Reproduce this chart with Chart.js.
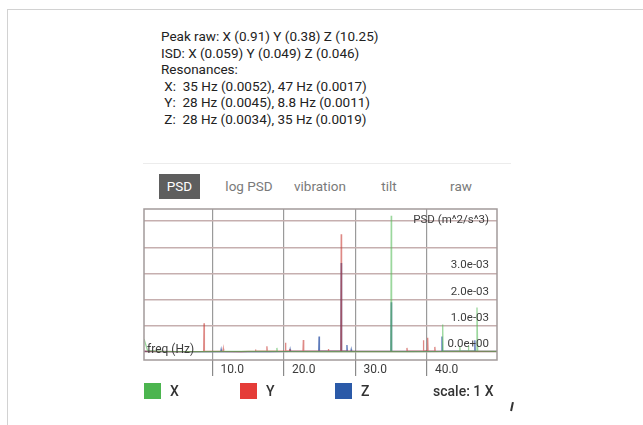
<!DOCTYPE html>
<html>
<head>
<meta charset="utf-8">
<script src="https://cdn.jsdelivr.net/npm/chart.js@4.4.1/dist/chart.umd.min.js"></script>
<style>
  html, body { margin: 0; padding: 0; background: #fff; width: 643px; height: 425px; overflow: hidden;
    font-family: Roboto, "Noto Sans", "Liberation Sans", sans-serif; }
  .frame { position: absolute; left: 7px; top: 9px; width: 700px; height: 500px;
    border-top: 1.5px solid #d2d2d2; border-left: 1.5px solid #d2d2d2; }
  #stats { position: absolute; left: 161px; top: 28px; font-size: 13.5px; line-height: 16.5px;
    color: #222; white-space: pre; }
  .sep { position: absolute; left: 143px; top: 163px; width: 368px; height: 1px; background: #ececec; }
  .tab { position: absolute; top: 174px; height: 25px; line-height: 25px; font-size: 13.5px;
    color: #7a7a7a; transform: translateX(-50%); white-space: nowrap; }
  .tab.on { background: #5e5e5e; color: #fff; width: 41px; text-align: center; transform: none; }
  #plot { position: absolute; left: 140px; top: 205px; width: 365px; height: 180px; }
  .sw { position: absolute; top: 383px; width: 17px; height: 16px; }
  .lg { position: absolute; top: 383px; line-height: 17px; font-size: 14px; color: #333; font-weight: 500; white-space: nowrap; }
  .mark { position: absolute; left: 511px; top: 402px; width: 1.5px; height: 9px; background: #333; transform: rotate(12deg); }
</style>
</head>
<body>
<div class="frame"></div>
<div id="stats"></div>
<div class="sep"></div>
<div id="tabs"></div>
<div id="plot"><canvas id="psd"></canvas></div>
<div id="legend"></div>
<div class="mark"></div>

<script>
// ---- summary values ----
const peakRaw = [0.91, 0.38, 10.25];
const isd = ['0.059', '0.049', '0.046'];
const axisNames = ['X', 'Y', 'Z'];

// top two resonances per axis: [frequency Hz, PSD]
const resonX = [[35, 0.0052], [47, 0.0017]];
const resonY = [[28, 0.0045], [8.8, 0.0011]];
const resonZ = [[28, 0.0034], [35, 0.0019]];

// remaining spectrum points per axis: [frequency Hz, PSD]
const spectrumX = [
  [0.4, 0.0005], [0.9, 0.00006], [3.0, 0.00003], [8.0, 0.00002], [12.0, 0.00003],
  [18.95, 0.00003], [19.0, 0.00016], [19.05, 0.00003], [25.0, 0.00002], [30.0, 0.00002],
  [34.95, 0.00003], [35.05, 0.00003], [38.0, 0.00002],
  [42.15, 0.00003], [42.2, 0.00105], [42.25, 0.00003],
  [44.55, 0.00003], [44.6, 0.0002], [44.65, 0.00004], [45.75, 0.00004], [45.8, 0.00025], [45.85, 0.00004],
  [46.9, 0.00004], [47.1, 0.00004], [49.8, 0.00003]
];
const spectrumY = [
  [0.4, 0.00004], [2.0, 0.00003], [5.0, 0.00002], [8.75, 0.00003], [8.85, 0.00004],
  [11.45, 0.00003], [11.5, 0.00013], [11.55, 0.00003], [14.0, 0.00002],
  [15.95, 0.00004], [16.0, 0.0001], [16.05, 0.00004],
  [17.55, 0.00004], [17.6, 0.00022], [17.65, 0.00004],
  [20.15, 0.00004], [20.2, 0.00036], [20.25, 0.00005], [20.75, 0.00005], [20.8, 0.00012], [20.85, 0.00004],
  [22.65, 0.00004], [22.7, 0.00046], [22.75, 0.00005], [24.0, 0.00004],
  [26.15, 0.00004], [26.2, 0.00012], [26.25, 0.00004],
  [27.95, 0.00004], [28.05, 0.00005], [30.0, 0.00003], [33.0, 0.00003],
  [37.15, 0.00004], [37.2, 0.00016], [37.25, 0.00004],
  [39.45, 0.00004], [39.5, 0.00045], [39.55, 0.00005],
  [40.05, 0.00005], [40.1, 0.00055], [40.15, 0.00005],
  [41.05, 0.00004], [41.1, 0.0002], [41.15, 0.00004], [44.0, 0.00003], [49.8, 0.00003]
];
const spectrumZ = [
  [0.4, 0.00003], [5.0, 0.00002], [11.15, 0.00003], [11.2, 0.0001], [11.25, 0.00003],
  [18.0, 0.00002], [20.8, 0.00003], [20.85, 0.0001], [20.9, 0.00003],
  [24.85, 0.00004], [24.9, 0.0006], [24.95, 0.00004],
  [27.95, 0.00004], [28.05, 0.00004],
  [28.75, 0.00004], [28.8, 0.00027], [28.85, 0.00004], [29.35, 0.00003], [29.4, 0.0001], [29.45, 0.00003],
  [34.95, 0.00003], [35.05, 0.00003], [36.5, 0.00003],
  [42.05, 0.00004], [42.1, 0.0006], [42.15, 0.00004],
  [46.65, 0.00004], [46.7, 0.00045], [46.75, 0.00004], [49.8, 0.00003]
];

// axis ticks and labels
const freqTicks = [10, 20, 30, 40];
const freqTickLabels = ['10.0', '20.0', '30.0', '40.0'];
const psdGrid = [0, 0.001, 0.002, 0.003, 0.004, 0.005];
const psdLabelValues = [0, 0.001, 0.002, 0.003];
const psdLabels = ['0.0e+00', '1.0e-03', '2.0e-03', '3.0e-03'];
const psdTitle = 'PSD (m^2/s^3)';
const freqTitle = 'freq (Hz)';
const tabNames = ['PSD', 'log PSD', 'vibration', 'tilt', 'raw'];
const scaleText = 'scale: 1 X';

// ---- styling ----
const lineColors = ['rgba(88,188,92,0.6)', 'rgba(200,58,52,0.6)', 'rgba(30,70,160,0.72)'];
const swatchColors = ['#4cb54f', '#e53c38', '#2b5aa8'];

// ---- text panel ----
const fmtRes = list => list.map(([f, v]) => f + ' Hz (' + v + ')').join(', ');
const resonances = [resonX, resonY, resonZ];
document.getElementById('stats').textContent = [
  'Peak raw: ' + axisNames.map((n, i) => n + ' (' + peakRaw[i] + ')').join(' '),
  'ISD: ' + axisNames.map((n, i) => n + ' (' + isd[i] + ')').join(' '),
  'Resonances:',
  ...axisNames.map((n, i) => ' ' + n + ':  ' + fmtRes(resonances[i]))
].join('\n');

// ---- tabs ----
const tabCenters = [179.5, 249, 320, 389, 461];
const tabs = document.getElementById('tabs');
tabNames.forEach((t, i) => {
  const d = document.createElement('div');
  d.className = 'tab' + (i === 0 ? ' on' : '');
  d.textContent = t;
  d.style.left = (i === 0 ? 159 : tabCenters[i]) + 'px';
  tabs.appendChild(d);
});

// ---- legend ----
const legend = document.getElementById('legend');
const swatchLeft = [144, 240, 335];
axisNames.forEach((n, i) => {
  const s = document.createElement('div');
  s.className = 'sw'; s.style.left = swatchLeft[i] + 'px'; s.style.background = swatchColors[i];
  legend.appendChild(s);
  const l = document.createElement('div');
  l.className = 'lg'; l.style.left = (swatchLeft[i] + 26) + 'px'; l.textContent = n;
  legend.appendChild(l);
});
const sc = document.createElement('div');
sc.className = 'lg'; sc.style.left = '433px'; sc.textContent = scaleText;
legend.appendChild(sc);

// ---- chart ----
const merge = (base, peaks) => base.concat(peaks).sort((a, b) => a[0] - b[0]).map(([x, y]) => ({ x, y }));
const seriesData = [merge(spectrumX, resonX), merge(spectrumY, resonY), merge(spectrumZ, resonZ)];

const overlay = {
  id: 'overlay',
  afterDraw(chart) {
    const { ctx, chartArea: a, scales: { x, y } } = chart;
    ctx.save();
    // plot frame
    ctx.strokeStyle = '#a29a9a';
    ctx.lineWidth = 1.5;
    ctx.strokeRect(a.left, a.top, a.right - a.left, a.bottom - a.top);
    ctx.fillStyle = '#3c3c3c';
    // value labels sit just above their grid lines
    ctx.font = '11.5px Roboto';
    ctx.textAlign = 'right';
    ctx.textBaseline = 'alphabetic';
    psdLabelValues.forEach((v, i) => ctx.fillText(psdLabels[i], a.right - 8, y.getPixelForValue(v) - 5));
    ctx.textBaseline = 'middle';
    ctx.fillText(psdTitle, a.right - 8, y.getPixelForValue(0.005) - 1);
    // axis name
    ctx.textAlign = 'left';
    ctx.textBaseline = 'alphabetic';
    ctx.font = '12px Roboto';
    ctx.fillText(freqTitle, a.left + 3, y.getPixelForValue(0) + 1);
    // frequency labels to the right of each tick
    ctx.textBaseline = 'middle';
    freqTicks.forEach((f, i) => ctx.fillText(freqTickLabels[i], x.getPixelForValue(f) + 8, a.bottom + 10));
    ctx.restore();
  }
};

new Chart(document.getElementById('psd'), {
  type: 'line',
  data: {
    datasets: axisNames.map((n, i) => ({
      label: n,
      data: seriesData[i],
      borderColor: lineColors[i],
      borderWidth: 1.3,
      pointRadius: 0,
      tension: 0,
      fill: false
    }))
  },
  options: {
    animation: false,
    responsive: true,
    maintainAspectRatio: false,
    layout: { padding: { left: 4, top: 4, right: 8, bottom: 9 } },
    plugins: { legend: { display: false }, tooltip: { enabled: false } },
    scales: {
      x: {
        type: 'linear', min: 0.4, max: 49.8,
        afterBuildTicks: s => { s.ticks = freqTicks.map(v => ({ value: v })); },
        ticks: { display: false },
        grid: { color: '#9a9a9a', lineWidth: 1.2, drawTicks: true, tickLength: 16, tickColor: '#8a8a8a' },
        border: { display: false }
      },
      y: {
        type: 'linear', min: -0.0003, max: 0.00546,
        afterBuildTicks: s => { s.ticks = psdGrid.map(v => ({ value: v })); },
        ticks: { display: false },
        grid: { color: '#c6afaf', lineWidth: 1.5, drawTicks: false },
        border: { display: false }
      }
    }
  },
  plugins: [overlay]
});
</script>
</body>
</html>
